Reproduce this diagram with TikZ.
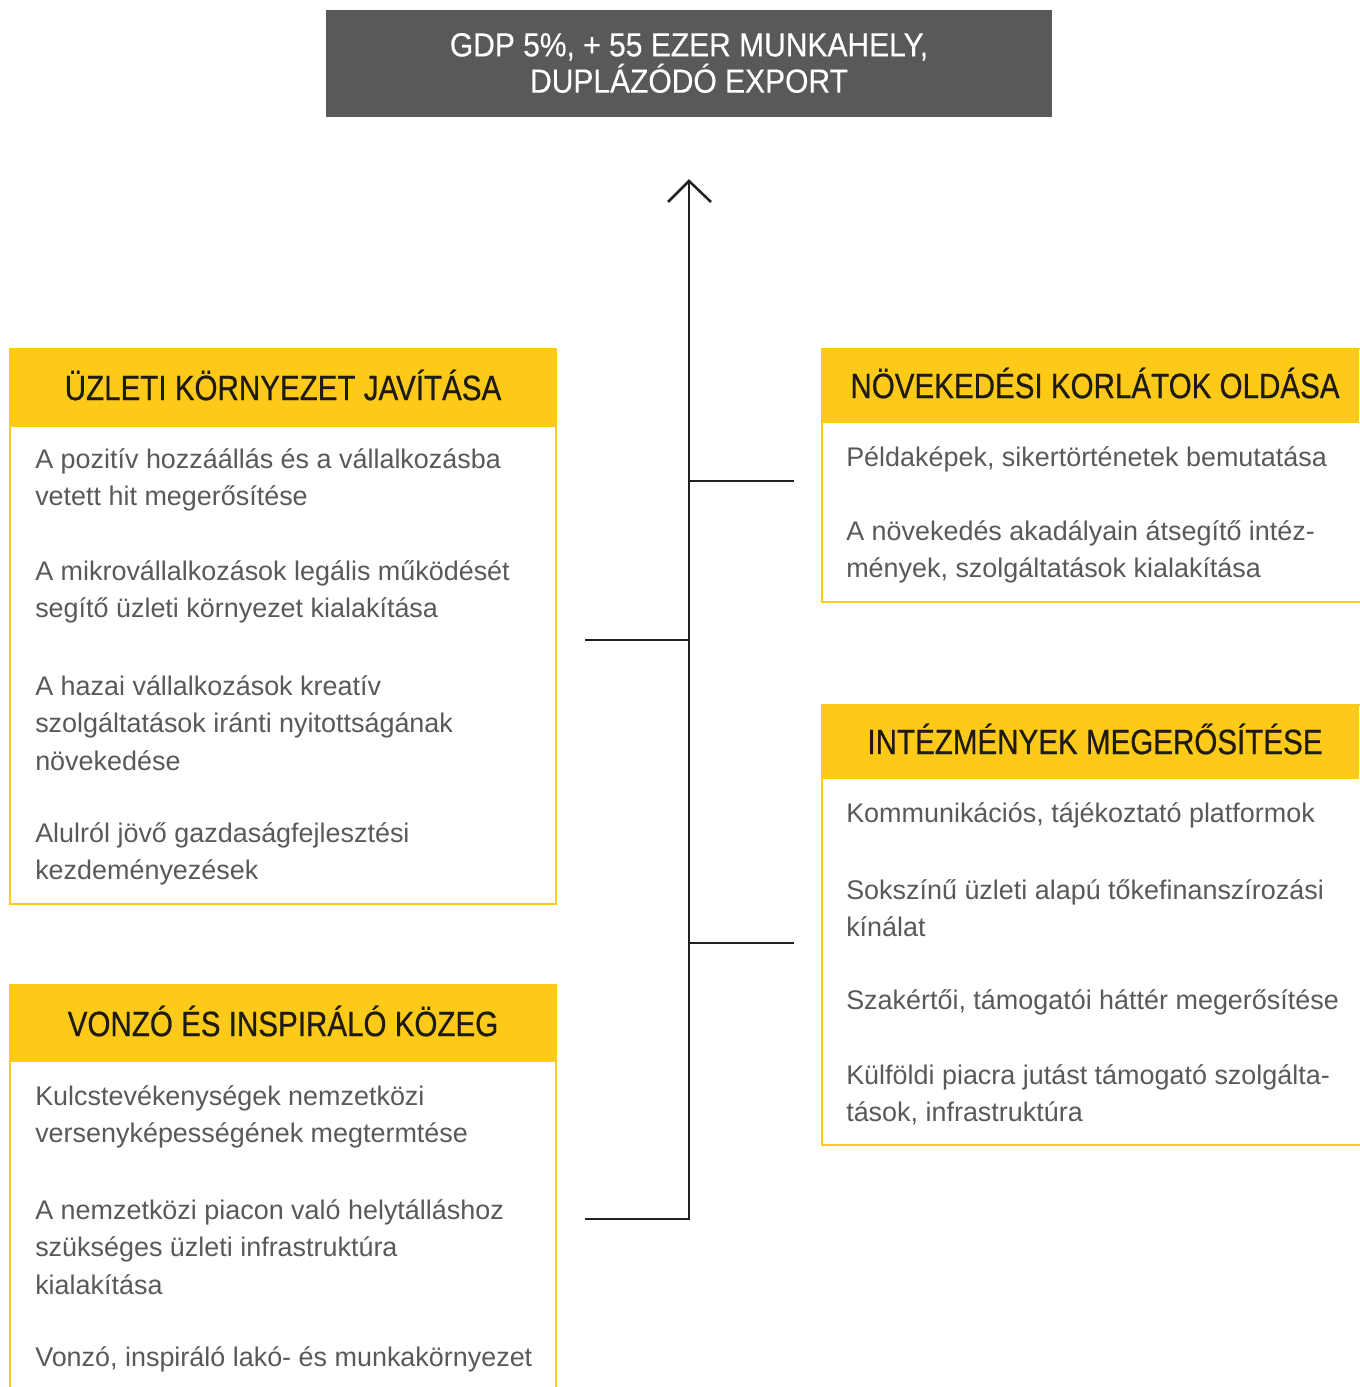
\documentclass[tikz,border=0pt]{standalone}
\usepackage{fontspec}
\setmainfont{Liberation Sans}
\newfontfamily\headfont[FakeStretch=0.84,FakeBold=0.6]{Liberation Sans}
\newfontfamily\topfont[FakeStretch=0.9,FakeBold=0.3]{Liberation Sans}
\definecolor{ybar}{HTML}{FECA1A}
\definecolor{topgray}{HTML}{58595B}
\definecolor{linec}{HTML}{231F20}
\definecolor{bodyc}{HTML}{58595B}
\definecolor{headc}{HTML}{1E1A14}
\tikzset{
  conn/.style={draw=linec, line width=1.9pt},
  frame/.style={draw=ybar, line width=2.2pt},
  headbar/.style={fill=ybar},
  headtxt/.style={font=\headfont\fontsize{26.4}{30}\selectfont, text=headc, inner sep=0pt},
  item/.style={font=\fontsize{20.2}{28.1}\selectfont, text=bodyc, align=left, anchor=west, inner sep=0pt},
  toptxt/.style={font=\topfont\fontsize{25}{27.2}\selectfont, text=white, align=center, inner sep=0pt}
}
\begin{document}
\begin{tikzpicture}[x=0.75pt,y=-0.75pt]
\useasboundingbox (0,0) rectangle (1359,1387);
% top box
\fill[topgray] (326,10) rectangle (1052,117);
\node[toptxt] (goal) at (689,63) {GDP 5\%, + 55 EZER MUNKAHELY,\\DUPLÁZÓDÓ EXPORT};
% spine
\coordinate (tip) at (689,181);
\coordinate (bottom) at (689,1219);
\coordinate (r1) at (794,481);
\coordinate (r1s) at (689,481);
\coordinate (l1) at (585,640);
\coordinate (l1s) at (689,640);
\coordinate (r2) at (794,943);
\coordinate (r2s) at (689,943);
\coordinate (l2) at (585,1219);
\draw[conn] (tip) -- (bottom) -- (l2);
\draw[conn, line join=miter] (668,202) -- (tip) -- (711,202);
\draw[conn] (r1s) -- (r1);
\draw[conn] (l1s) -- (l1);
\draw[conn] (r2s) -- (r2);
% left box 1
\draw[frame] (10,349) rectangle (556,904);
\fill[headbar] (9,348) rectangle (557,427);
\node[headtxt] (h1) at (283,385) {ÜZLETI KÖRNYEZET JAVÍTÁSA};
\node[item] (a1) at (35,480) {A pozitív hozzáállás és a vállalkozásba\\vetett hit megerősítése};
\node[item] (a2) at (35,592) {A mikrovállalkozások legális működését\\segítő üzleti környezet kialakítása};
\node[item] (a3) at (35,723) {A hazai vállalkozások kreatív\\szolgáltatások iránti nyitottságának\\növekedése};
\node[item] (a4) at (35,854) {Alulról jövő gazdaságfejlesztési\\kezdeményezések};
% left box 2
\draw[frame] (10,1387) -- (10,985) -- (556,985) -- (556,1387);
\fill[headbar] (9,984) rectangle (557,1062);
\node[headtxt] (h2) at (283,1021) {VONZÓ ÉS INSPIRÁLÓ KÖZEG};
\node[item] (c1) at (35,1117) {Kulcstevékenységek nemzetközi\\versenyképességének megtermtése};
\node[item] (c2) at (35,1247) {A nemzetközi piacon való helytálláshoz\\szükséges üzleti infrastruktúra\\kialakítása};
\node[item] (c3) at (35,1359) {Vonzó, inspiráló lakó- és munkakörnyezet};
% right box 1
\draw[frame] (1365,349) -- (822,349) -- (822,602) -- (1365,602);
\fill[headbar] (821,348) rectangle (1359,423);
\node[headtxt] (h3) at (1095,383) {NÖVEKEDÉSI KORLÁTOK OLDÁSA};
\node[item] (b1) at (846,459) {Példaképek, sikertörténetek bemutatása};
\node[item] (b2) at (846,552) {A növekedés akadályain átsegítő intéz-\\mények, szolgáltatások kialakítása};
% right box 2
\draw[frame] (1365,705) -- (822,705) -- (822,1145) -- (1365,1145);
\fill[headbar] (821,704) rectangle (1359,779);
\node[headtxt] (h4) at (1095,739) {INTÉZMÉNYEK MEGERŐSÍTÉSE};
\node[item] (d1) at (846,815) {Kommunikációs, tájékoztató platformok};
\node[item] (d2) at (846,908) {Sokszínű üzleti alapú tőkefinanszírozási\\kínálat};
\node[item] (d3) at (846,1002) {Szakértői, támogatói háttér megerősítése};
\node[item] (d4) at (846,1095) {Külföldi piacra jutást támogató szolgálta-\\tások, infrastruktúra};
\end{tikzpicture}
\end{document}
